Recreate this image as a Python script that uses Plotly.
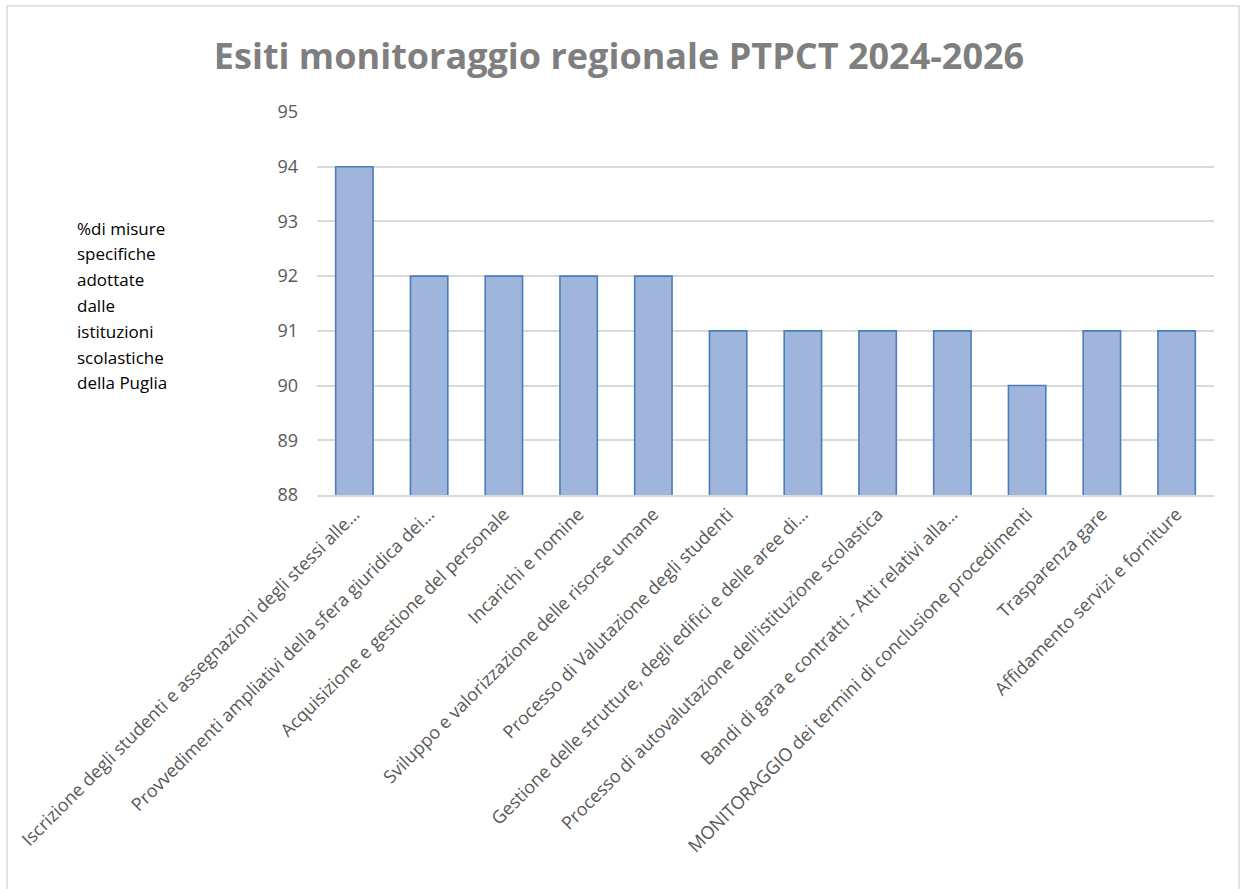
import plotly.graph_objects as go

categories = [
    "Iscrizione degli studenti e assegnazioni degli stessi alle…",
    "Provvedimenti ampliativi della sfera giuridica dei…",
    "Acquisizione e gestione del personale",
    "Incarichi e nomine",
    "Sviluppo e valorizzazione delle risorse umane",
    "Processo di Valutazione degli studenti",
    "Gestione delle strutture, degli edifici e delle aree di…",
    "Processo di autovalutazione dell'istituzione scolastica",
    "Bandi di gara e contratti - Atti relativi alla…",
    "MONITORAGGIO dei termini di conclusione procedimenti",
    "Trasparenza gare",
    "Affidamento servizi e forniture",
]
values = [94, 92, 92, 92, 92, 91, 91, 91, 91, 90, 91, 91]
y_ticks = [88, 89, 90, 91, 92, 93, 94, 95]
y_title_lines = ["%di misure", "specifiche", "adottate", "dalle",
                 "istituzioni", "scolastiche", "della Puglia"]

W, H = 1243, 889
L, R, T, B = 317, 29, 112, 394
pw, ph = W - L - R, H - T - B

def px(x):
    return (x - L) / pw

def py(y):
    return (H - B - y) / ph

fig = go.Figure()
fig.add_trace(go.Bar(
    x=categories, y=values,
    marker=dict(color="#9fb5db", line=dict(color="#4a7ebb", width=1.6)),
    width=0.5,
))

fig.update_layout(
    width=W, height=H,
    margin=dict(l=L, r=R, t=T, b=B),
    paper_bgcolor="white", plot_bgcolor="white",
    showlegend=False,
    font=dict(family="Open Sans", color="#595959"),
    title=dict(
        text="<b>Esiti monitoraggio regionale PTPCT 2024-2026</b>",
        x=619 / W, xanchor="center", xref="container",
        y=1 - 56 / H, yanchor="middle", yref="container",
        font=dict(family="Open Sans", size=36, color="#7f7f7f"),
    ),
)
fig.update_xaxes(
    tickangle=-45, tickfont=dict(size=18, color="#595959"),
    showline=True, linecolor="#d9d9d9", linewidth=1.5,
    showgrid=False, ticks="", automargin=False,
)
fig.update_yaxes(
    range=[88, 95], tickvals=y_ticks,
    tickfont=dict(size=18, color="#595959"),
    showgrid=True, gridcolor="#d9d9d9", gridwidth=1.5,
    zeroline=False, ticks="", ticklabelstandoff=18, automargin=False,
)

for i, line in enumerate(y_title_lines):
    fig.add_annotation(
        xref="paper", yref="paper", x=px(75), y=py(228 + 25.8 * i),
        xanchor="left", yanchor="middle", align="left", showarrow=False,
        text=line,
        font=dict(family="Open Sans", size=17, color="#000000"),
    )

fig.add_shape(
    type="rect", xref="paper", yref="paper",
    x0=px(7), x1=px(1239), y0=py(900), y1=py(6),
    line=dict(color="#d9d9d9", width=1.5), fillcolor="rgba(0,0,0,0)",
    layer="below",
)

fig.write_html("out.html")
